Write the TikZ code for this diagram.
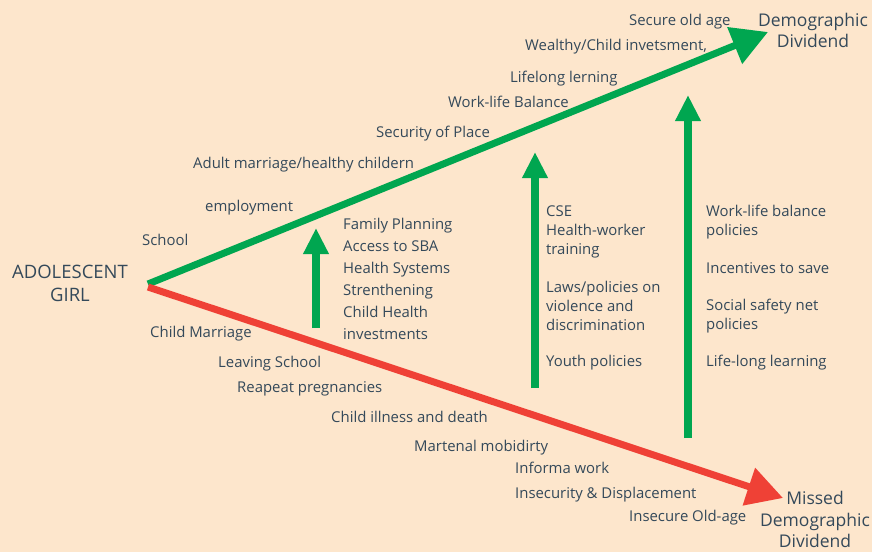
\documentclass[tikz,border=0pt]{standalone}
\usepackage{fontspec}
\setmainfont{Open Sans}
\usetikzlibrary{arrows.meta}
\definecolor{bg}{HTML}{FDE6CC}
\definecolor{gr}{HTML}{00A650}
\definecolor{rd}{HTML}{EF4136}
\definecolor{tx}{HTML}{34495A}
\begin{document}
\begin{tikzpicture}[x=1pt,y=-1pt,
  lbl/.style={anchor=west,inner sep=0pt,text=tx,font=\fontsize{14.9}{18}\selectfont,text height=10.5pt,text depth=0pt},
  big/.style={anchor=center,inner sep=0pt,text=tx,font=\fontsize{17.5}{20}\selectfont,text height=12pt,text depth=0pt},
  mainarrow/.style={line width=7pt,-{Triangle[length=36pt,width=38pt]}},
  uparrow/.style={line width=8pt,draw=gr,-{Triangle[length=26pt,width=24pt]}}]
\fill[bg] (0,0) rectangle (872,552);
\useasboundingbox (0,0) rectangle (872,552);
% coordinates
\coordinate (start) at (148,284);
\coordinate (gend) at (768,32);
\coordinate (rend) at (783,498);
\coordinate (u1b) at (316,328); \coordinate (u1t) at (316,228);
\coordinate (u2b) at (535,388); \coordinate (u2t) at (535,152);
\coordinate (u3b) at (688,438); \coordinate (u3t) at (688,95);
\draw[mainarrow,draw=gr] (start) -- (gend);
\draw[mainarrow,draw=rd] (start) ++(0,3) coordinate (rstart) -- (rend);
\draw[uparrow] (u1b) -- (u1t);
\draw[uparrow] (u2b) -- (u2t);
\draw[uparrow] (u3b) -- (u3t);
% left title
\node[big,font=\fontsize{18.5}{20}\selectfont] (ag1) at (70,272) {ADOLESCENT};
\node[big,font=\fontsize{18.5}{20}\selectfont] (ag2) at (70,295) {GIRL};
\node[big] (dd1) at (813,20) {Demographic};
\node[big] (dd2) at (813,41) {Dividend};
\node[big] (md1) at (815,498) {Missed};
\node[big] (md2) at (815,520) {Demographic};
\node[big] (md3) at (815,541) {Dividend};
% upper path labels
\node[lbl] (g1) at (629,20) {Secure old age};
\node[lbl] (g2) at (525,45) {Wealthy/Child invetsment,};
\node[lbl] (g3) at (510,77) {Lifelong lerning};
\node[lbl] (g4) at (448,102) {Work-life Balance};
\node[lbl] (g5) at (376,132) {Security of Place};
\node[lbl] (g6) at (193,163) {Adult marriage/healthy childern};
\node[lbl] (g7) at (205,206) {employment};
\node[lbl] (g8) at (142,240) {School};
% lower path labels
\node[lbl] (r1) at (150,332) {Child Marriage};
\node[lbl] (r2) at (218,362) {Leaving School};
\node[lbl] (r3) at (237,387) {Reapeat pregnancies};
\node[lbl] (r4) at (331,417) {Child illness and death};
\node[lbl] (r5) at (414,446) {Martenal mobidirty};
\node[lbl] (r6) at (515,468) {Informa work};
\node[lbl] (r7) at (515,493) {Insecurity \& Displacement};
\node[lbl] (r8) at (629,516) {Insecure Old-age};
% column 1
\node[lbl] (a1) at (343,224) {Family Planning};
\node[lbl] (a2) at (343,246) {Access to SBA};
\node[lbl] (a3) at (343,268) {Health Systems};
\node[lbl] (a4) at (343,290) {Strenthening};
\node[lbl] (a5) at (343,312) {Child Health};
\node[lbl] (a6) at (343,334) {investments};
% column 2
\node[lbl] (b1) at (546,211) {CSE};
\node[lbl] (b2) at (546,230) {Health-worker};
\node[lbl] (b3) at (546,249) {training};
\node[lbl] (b4) at (546,287) {Laws/policies on};
\node[lbl] (b5) at (546,306) {violence and};
\node[lbl] (b6) at (546,325) {discrimination};
\node[lbl] (b7) at (546,361) {Youth policies};
% column 3
\node[lbl] (c1) at (706,211) {Work-life balance};
\node[lbl] (c2) at (706,230) {policies};
\node[lbl] (c3) at (706,268) {Incentives to save};
\node[lbl] (c4) at (706,305) {Social safety net};
\node[lbl] (c5) at (706,324) {policies};
\node[lbl] (c6) at (706,361) {Life-long learning};
\end{tikzpicture}
\end{document}
